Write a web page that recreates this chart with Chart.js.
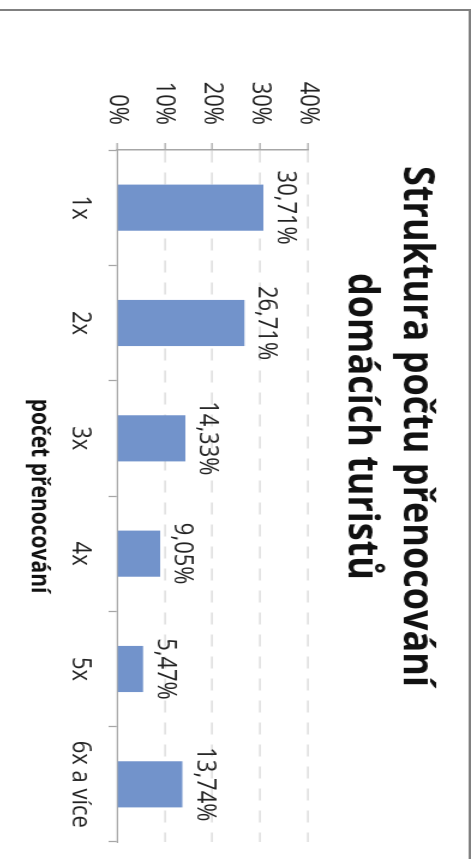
<!DOCTYPE html>
<html>
<head>
<meta charset="utf-8">
<script src="https://cdn.jsdelivr.net/npm/chart.js@4.4.1/dist/chart.umd.min.js"></script>
<style>
  html, body { margin: 0; padding: 0; background: #fff; }
  body { width: 476px; height: 859px; overflow: hidden; position: relative; }
  /* the chart is shown turned a quarter to the right, a bit stretched across */
  #frame {
    position: absolute; left: 0; top: 0;
    width: 860px; height: 392px;
    border: 2px solid #808080;
    background: #fff;
    transform-origin: 0 0;
    transform: translate(471px, 9px) rotate(90deg) scaleY(1.2);
  }
  #chart { display: block; }
</style>
</head>
<body>
<div id="frame"><canvas id="chart" width="860" height="392"></canvas></div>
<script>
const categories = ['1x', '2x', '3x', '4x', '5x', '6x a více'];
const shares = [30.71, 26.71, 14.33, 9.05, 5.47, 13.74];
const valueTicks = [0, 10, 20, 30, 40];

const fmt = v => v.toFixed(2).replace('.', ',') + '%';
const txt = '#222';
const axisColor = '#a6a6a6';

// value labels above the bars
const barLabels = {
  id: 'barLabels',
  afterDatasetsDraw(chart) {
    const ctx = chart.ctx;
    const meta = chart.getDatasetMeta(0);
    ctx.save();
    ctx.font = '22px "Open Sans"';
    ctx.fillStyle = txt;
    ctx.textAlign = 'center';
    ctx.textBaseline = 'alphabetic';
    meta.data.forEach((bar, i) => {
      ctx.fillText(fmt(shares[i]), bar.x, bar.y - 12);
    });
    ctx.restore();
  }
};

new Chart(document.getElementById('chart').getContext('2d'), {
  type: 'bar',
  data: {
    labels: categories,
    datasets: [{
      data: shares,
      backgroundColor: '#7293cb',
      borderWidth: 0,
      barPercentage: 0.4,
      categoryPercentage: 1
    }]
  },
  options: {
    responsive: false,
    animation: false,
    layout: { padding: { left: 0, right: 29, top: 0, bottom: 0 } },
    plugins: {
      legend: { display: false },
      tooltip: { enabled: false },
      title: {
        display: true,
        text: ['Struktura počtu přenocování', 'domácích turistů'],
        color: '#111',
        font: { family: 'Open Sans', size: 36, weight: 'bold', lineHeight: 1.3 },
        padding: { top: 20, bottom: 20.4 }
      }
    },
    scales: {
      x: {
        grid: { display: true, drawOnChartArea: false, drawTicks: true, tickLength: 7, color: axisColor, tickColor: axisColor, tickWidth: 1.25 },
        border: { display: true, color: axisColor, width: 1.25 },
        ticks: { color: txt, padding: 11, font: { family: 'Open Sans', size: 22 } },
        title: {
          display: true,
          text: 'počet přenocování',
          color: '#111',
          font: { family: 'Open Sans', size: 21, weight: 'bold' },
          padding: { top: 0, bottom: 21 }
        },
        afterFit(scale) { scale.height = 99; }
      },
      y: {
        min: 0,
        max: 40,
        afterBuildTicks(scale) { scale.ticks = valueTicks.map(v => ({ value: v })); },
        grid: {
          color: ctx => ctx.tick && ctx.tick.value === 0 ? 'rgba(0,0,0,0)' : '#e2e2e2',
          lineWidth: 1.7,
          tickColor: axisColor,
          tickLength: 7,
          tickWidth: 1.25,
          tickBorderDash: []
        },
        border: { display: true, color: axisColor, width: 1.5, dash: [12, 10] },
        ticks: { color: txt, padding: 18, font: { family: 'Open Sans', size: 22 }, callback: v => v + '%' },
        afterFit(scale) { scale.width = 139; }
      }
    }
  },
  plugins: [barLabels]
});
</script>
</body>
</html>
